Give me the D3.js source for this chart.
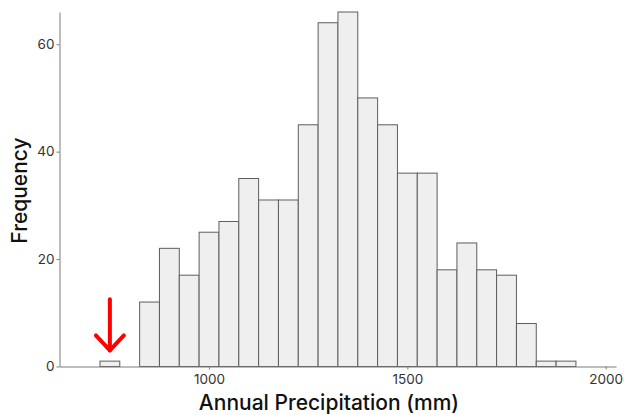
<!DOCTYPE html>
<html>
<head>
<meta charset="utf-8">
<script src="https://cdn.jsdelivr.net/npm/d3@7"></script>
<style>
  body { margin: 0; background: #fff; }
  svg { display: block; font-family: Inter, "Noto Sans", sans-serif; }
</style>
</head>
<body>
<script>
// bin edges (mm) and counts per bin
var binStart = [725, 775, 825, 875, 925, 975, 1025, 1075, 1125, 1175, 1225, 1275,
                1325, 1375, 1425, 1475, 1525, 1575, 1625, 1675, 1725, 1775, 1825, 1875];
var binWidth = 50;
var counts = [1, 0, 12, 22, 17, 25, 27, 35, 31, 31, 45, 64,
              66, 50, 45, 36, 36, 18, 23, 18, 17, 8, 1, 1];

var xTicks = [1000, 1500, 2000];
var yTicks = [0, 20, 40, 60];

// red arrow pointing at the lone low bin
var arrowX = 750, arrowFrom = 12.5, arrowTo = 3;

var width = 624, height = 415;

var svg = d3.select("body")
    .append("svg")
    .attr("width", width)
    .attr("height", height);

var x = d3.scaleLinear()
    .domain([623, 2026])
    .range([59.5, 616]);

var y = d3.scaleLinear()
    .domain([0, 66])
    .range([366.5, 12]);

var bins = binStart.map(function (s, i) {
    return {x0: s, x1: s + binWidth, n: counts[i]};
});

//柱子
svg.append("g")
    .selectAll("rect")
    .data(bins.filter(function (d) { return d.n > 0; }))
    .enter()
    .append("rect")
    .attr("x", function (d) { return x(d.x0); })
    .attr("width", function (d) { return x(d.x1) - x(d.x0); })
    .attr("y", function (d) { return y(d.n); })
    .attr("height", function (d) { return y(0) - y(d.n); })
    .attr("fill", "#efefef")
    .attr("stroke", "#5e5e5e")
    .attr("stroke-width", 1);

// axes
var axisColor = "#7a7a7a";

var xAxis = svg.append("g")
    .attr("transform", "translate(0," + y(0) + ")")
    .call(d3.axisBottom(x).tickValues(xTicks).tickSize(3).tickSizeOuter(0).tickFormat(d3.format("d")));

var yAxis = svg.append("g")
    .attr("transform", "translate(" + x.range()[0] + ",0)")
    .call(d3.axisLeft(y).tickValues(yTicks).tickSize(3).tickSizeOuter(0).tickPadding(2));

[xAxis, yAxis].forEach(function (g) {
    g.select(".domain").attr("stroke", axisColor);
    g.selectAll(".tick line").attr("stroke", axisColor);
    g.selectAll(".tick text")
        .attr("fill", "#333")
        .style("font-size", "13.5px")
        .style("font-family", "Inter, sans-serif");
});
xAxis.selectAll(".tick text").attr("y", 17).attr("dy", null);

// axis titles
svg.append("text")
    .attr("x", 329)
    .attr("y", 410)
    .attr("text-anchor", "middle")
    .attr("fill", "#111")
    .style("font-size", "21px")
    .style("font-weight", 500)
    .text("Annual Precipitation (mm)");

svg.append("text")
    .attr("transform", "translate(26.5,190.5) rotate(-90)")
    .attr("text-anchor", "middle")
    .attr("fill", "#111")
    .style("font-size", "21px")
    .style("font-weight", 500)
    .text("Frequency");

// arrow
var ax = x(arrowX), ay0 = y(arrowFrom), ay1 = y(arrowTo);
var arrow = svg.append("g")
    .attr("stroke", "#ff0000")
    .attr("stroke-width", 4)
    .attr("fill", "none")
    .attr("stroke-linecap", "round")
    .attr("stroke-linejoin", "round");
arrow.append("line")
    .attr("x1", ax).attr("y1", ay0)
    .attr("x2", ax).attr("y2", ay1);
arrow.append("path")
    .attr("d", d3.line()([[ax - 14, ay1 - 15], [ax, ay1], [ax + 14, ay1 - 15]]));
</script>
</body>
</html>
